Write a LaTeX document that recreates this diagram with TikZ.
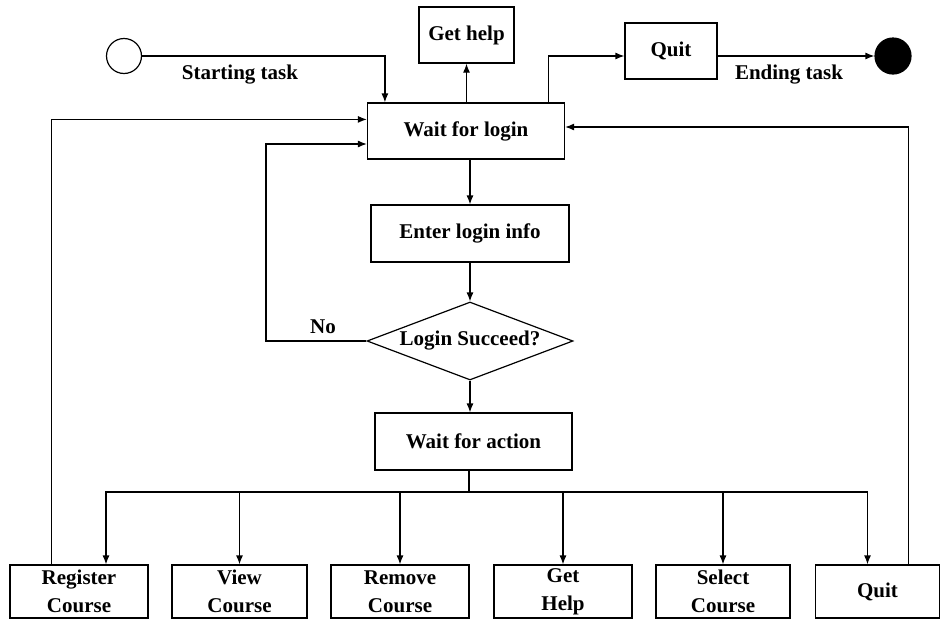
\documentclass[tikz,border=0pt]{standalone}
\usepackage{fontspec}
\setmainfont{Liberation Serif}
\usetikzlibrary{arrows.meta,shapes.geometric}
\tikzset{
  box/.style={draw,line width=1.2pt,inner sep=0pt,align=center,font=\bfseries\fontsize{21}{28}\selectfont},
  arr/.style={line width=1.2pt,-{Latex[length=9pt,width=7pt]}},
  lbl/.style={font=\bfseries\fontsize{21}{24}\selectfont}
}
\begin{document}
\begin{tikzpicture}[x=1pt,y=-1pt,line width=1.2pt]
\useasboundingbox (0,0) rectangle (940,619);
% top row
\node[draw,circle,minimum size=35pt,inner sep=0pt] (start) at (124,56) {};
\node[draw,circle,fill,minimum size=36pt,inner sep=0pt] (stop) at (893,56) {};
\node[lbl] (starttxt) at (240,75) {Starting task};
\node[lbl] (endtxt) at (789,75) {Ending task};
\node[box,minimum width=95pt,minimum height=56pt] (gethelp) at (466.5,35) {Get help};
\node[box,minimum width=92pt,minimum height=56pt] (quit) at (671,51) {Quit};
% main column
\node[box,minimum width=197pt,minimum height=56pt] (login) at (466,131) {Wait for login};
\node[box,minimum width=198pt,minimum height=57pt] (info) at (470,233.5) {Enter login info};
\node[box,diamond,aspect=2.64,minimum width=206pt,minimum height=78pt] (check) at (470,341) {Login Succeed?};
\node[lbl] (no) at (323,327) {No};
\node[box,minimum width=197pt,minimum height=57pt] (action) at (473.5,441.5) {Wait for action};
% bottom row
\node[box,minimum width=138pt,minimum height=53pt] (reg) at (79,591.5) {Register\\Course};
\node[box,minimum width=135pt,minimum height=53pt] (view) at (239.5,591.5) {View\\Course};
\node[box,minimum width=138pt,minimum height=53pt] (remove) at (400,591.5) {Remove\\Course};
\node[box,minimum width=138pt,minimum height=53pt] (help) at (563,591.5) {Get\\Help};
\node[box,minimum width=134pt,minimum height=53pt] (select) at (723,591.5) {Select\\Course};
\node[box,minimum width=124pt,minimum height=53pt] (quitb) at (877.5,591.5) {Quit};
% connectors
\draw[arr] (start) -| ([xshift=18pt]login.north west);
\draw[arr] (login.north -| gethelp.south) -- (gethelp.south);
\draw[arr] ([xshift=-17pt]login.north east) |- (quit.west |- start);
\draw[arr] (quit.east |- stop) -- (stop);
\draw[arr] (login.south -| info.north) -- (info.north);
\draw[arr] (info) -- (check);
\draw[arr] (check.south) -- (check.south |- action.north);
\coordinate (noback) at (266,144);
\draw[arr] (check.west) -| (noback) -- (noback -| login.west);
\coordinate (bus) at (469,492);
\draw (action.south -| bus) -- (bus);
\draw[arr] (bus) -| ([xshift=27pt]reg.north);
\draw[arr] (bus) -| (view.north);
\draw[arr] (bus) -| (remove.north);
\draw[arr] (bus) -| (help.north);
\draw[arr] (bus) -| (select.north);
\draw[arr] (bus) -| ([xshift=-10pt]quitb.north);
\draw[arr] ([xshift=42pt]reg.north west) |- ([yshift=-17pt]login.north west);
\draw[arr] ([xshift=-32pt]quitb.north east) |- ([yshift=4pt]login.east);
\end{tikzpicture}
\end{document}
